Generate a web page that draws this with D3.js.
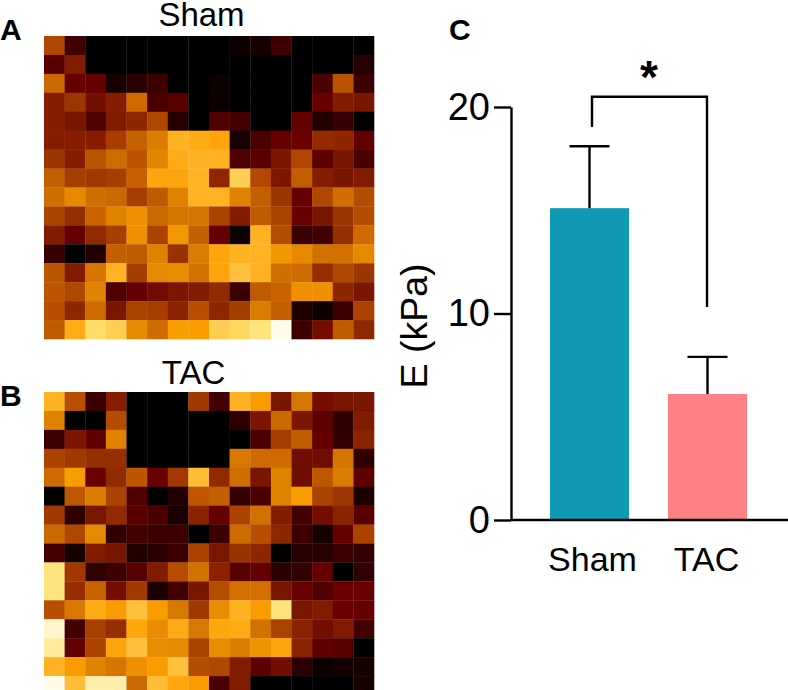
<!DOCTYPE html>
<html>
<head>
<meta charset="utf-8">
<style>
  html, body { margin: 0; padding: 0; background: #fff; }
  svg { display: block; }
  text { font-family: "Liberation Sans", Arial, sans-serif; fill: #000; }
</style>
<script src="https://cdn.jsdelivr.net/npm/d3@7"></script>
</head>
<body>
<svg id="chart" width="788" height="690">
  <defs>
    <filter id="soft" x="-2%" y="-2%" width="104%" height="104%">
      <feGaussianBlur stdDeviation="0.6"></feGaussianBlur>
    </filter>
  </defs>
</svg>
<script>
const groups = ['Sham', 'TAC'];
const means = [15.1, 6.1];
const errors = [3.0, 1.8];
const yTicks = [0, 10, 20];

// stiffness map levels (0 = black, 20 = near white)
const shamMap = [
  [8, 2.5, 0, 0, 0, 0, 0, 0, 0, 0.5, 1, 2.5, 0, 0, 0, 0],
  [3.5, 5.5, 0, 0, 0, 0.2, 0, 0, 0, 0, 0, 0, 0, 0, 0, 1.5],
  [10, 4, 4, 1, 1.7, 2.3, 0, 0, 0.3, 0, 0, 0, 0, 3, 8.7, 2.3],
  [5.8, 7, 4.8, 5.8, 10.2, 3, 3.5, 0, 0.3, 0, 0, 0, 0, 4.2, 5.5, 5],
  [5.8, 5, 3.2, 5.5, 6.2, 8, 1.6, 0, 3.2, 2.6, 0, 0, 4, 1.3, 2.2, 0],
  [5.8, 5.8, 5.8, 7.5, 9.6, 11.2, 15, 14.5, 14, 1, 3, 4, 4.3, 6.5, 6.3, 3.8],
  [7, 5.8, 8.8, 10.3, 8.8, 11.8, 14.5, 15, 15, 3.2, 3.5, 5.2, 8, 3.6, 5, 3],
  [9.5, 7.5, 7.2, 7.5, 9.6, 14, 14, 15, 6.3, 17, 8.2, 5.4, 9.4, 5.8, 5, 5.5],
  [10.4, 12, 10.4, 10, 7.5, 9.2, 11.6, 15, 15, 11.6, 9.5, 7, 4, 8, 10.4, 8.4],
  [7.8, 6.6, 9.8, 11.6, 12.6, 10, 10.8, 10.8, 7.8, 5.5, 9.2, 7.8, 4.2, 5, 7, 8.4],
  [5.5, 4, 6.4, 7.5, 12.6, 7.8, 13, 9.5, 4, 0.5, 15, 8.4, 2.2, 2.6, 6.6, 10.2],
  [2.2, 0, 1.3, 9.5, 9.2, 11.6, 6.8, 11.2, 14, 15, 15, 13, 12, 10.6, 10.6, 12],
  [9, 5.5, 10.8, 15, 7.4, 12, 12.3, 10.6, 14, 16, 15, 10.4, 10.2, 6.6, 8, 7],
  [9, 8, 11.6, 3.2, 4, 4.6, 5.2, 5.5, 6.4, 2.2, 9.2, 9.8, 12.6, 12.6, 6.2, 5],
  [8.6, 6.2, 10.2, 5, 7.8, 7.5, 6, 8.6, 6.2, 7.4, 11.2, 9.5, 1.2, 0.5, 2.3, 7.8],
  [9.2, 14.5, 18, 17, 12, 10.2, 13.4, 13.4, 17, 17.6, 18.3, 20, 2.3, 4.7, 9.2, 6.2]
];

const tacMap = [
  [15, 8.6, 2.3, 5.8, 0, 0, 0, 7.2, 2.6, 15, 13.4, 5, 10.8, 4.8, 5, 5],
  [11.6, 0, 0, 8.4, 0, 0, 0, 0, 0, 1.8, 5.2, 10, 5.3, 3.6, 1.8, 5.5],
  [2.3, 5.3, 3.8, 11.6, 0, 0, 0, 0, 0, 0, 3, 7.5, 9.3, 4, 2, 6],
  [7.8, 7.2, 6.6, 6.6, 0, 0, 0, 0, 0, 11, 10.2, 10.2, 4.5, 4.5, 10.8, 1.8],
  [10.2, 13.4, 4.2, 6.4, 9, 4.2, 7.2, 15.7, 6.4, 10.4, 5, 11.6, 4.5, 9, 11.2, 3.6],
  [0, 9, 11.2, 7.8, 3.2, 0, 1.3, 9, 9.5, 2, 3, 11.6, 13.4, 7.8, 7, 1.2],
  [7.2, 1.8, 5, 6.4, 3.5, 3, 1, 6, 4, 7.8, 10.6, 5.5, 2.6, 4.8, 6, 3.5],
  [10, 8, 12, 2, 2.6, 2.4, 2.4, 0, 2.4, 10.2, 8.6, 6.2, 2.4, 0.8, 4, 7.8],
  [2.6, 0.8, 5.5, 5, 1.3, 1.7, 2.4, 7.8, 5, 6.8, 6.2, 0, 1.6, 1.5, 2.3, 1.9],
  [18.3, 7.2, 2, 2.4, 3.4, 5.5, 8.4, 10.6, 6, 3.4, 4, 1.7, 2, 4, 0, 1.9],
  [18.3, 6.6, 9.8, 4.8, 7.2, 1.2, 2.6, 5, 8.4, 10.6, 10.6, 5, 4.2, 3.2, 4.3, 4.3],
  [8.6, 11, 14.5, 13.4, 16, 13.4, 11, 7.2, 12.3, 15, 13.4, 18.3, 5, 5.5, 4.3, 4],
  [19.6, 2.6, 7.6, 6.6, 14.2, 12.3, 14.5, 11, 14.2, 14.5, 10.6, 7.8, 6, 4.7, 5.5, 2.6],
  [18.8, 3.8, 7.8, 14, 16, 12.3, 12, 7.8, 12.3, 11.2, 12.8, 14, 6, 3.8, 3.4, 0],
  [15, 13.4, 11.6, 10.8, 12.6, 13.4, 16, 8.4, 8, 5.5, 3.6, 4.5, 1.7, 0.5, 0.7, 0.7],
  [20, 15.7, 19, 19, 10, 15.7, 14.2, 13.4, 3, 5.5, 0, 0, 0, 0, 0, 1]
];

const colorStops = [0, 4, 8, 12, 14, 16, 18, 20];
const colorRange = ['#000000', '#650000', '#b04600', '#e68800', '#ffa408', '#ffc03c', '#ffde6a', '#fffcea'];

const svg = d3.select('#chart');

const color = d3.scaleLinear().domain(colorStops).range(colorRange).clamp(true);

function drawMap(values, left, top, width, height, title, titleX, titleY) {
  const x = d3.scaleBand().domain(d3.range(16)).range([left, left + width]);
  const y = d3.scaleBand().domain(d3.range(16)).range([top, top + height]);

  const g = svg.append('g').attr('filter', 'url(#soft)');
  values.forEach((row, r) => {
    g.selectAll(null)
      .data(row)
      .join('rect')
      .attr('x', (d, c) => x(c))
      .attr('y', y(r))
      .attr('width', x.bandwidth() + 0.3)
      .attr('height', y.bandwidth() + 0.3)
      .attr('fill', (d) => color(d));
  });

  svg
    .append('text')
    .attr('x', titleX)
    .attr('y', titleY)
    .attr('text-anchor', 'middle')
    .attr('font-size', 33)
    .text(title);
}

drawMap(shamMap, 44, 36, 330, 303, 'Sham', 201.5, 26);
drawMap(tacMap, 44, 392, 330, 303, 'TAC', 193.5, 384);

// Panel letters
const panelLetters = [
  ['A', 0, 40],
  ['B', 0, 406],
  ['C', 449, 40]
];
svg
  .append('g')
  .attr('font-size', 30)
  .attr('font-weight', 'bold')
  .selectAll('text')
  .data(panelLetters)
  .join('text')
  .attr('x', (d) => d[1])
  .attr('y', (d) => d[2])
  .style('font-family', '"Liberation Sans", Arial, sans-serif')
  .text((d) => d[0]);

// Bar chart
const x = d3
  .scaleBand()
  .domain(groups)
  .range([530.5, 766.5])
  .paddingInner(0.33)
  .paddingOuter(0.165);

const y = d3.scaleLinear().domain([0, 20]).range([520, 107]);

const barColors = d3.scaleOrdinal().domain(groups).range(['#1099b5', '#ff8085']);

svg
  .append('g')
  .selectAll('rect')
  .data(groups)
  .join('rect')
  .attr('x', (d) => x(d))
  .attr('y', (d, i) => y(means[i]))
  .attr('width', x.bandwidth())
  .attr('height', (d, i) => y(0) - y(means[i]))
  .attr('fill', (d) => barColors(d));

// Error bars, upper half only
const errG = svg.append('g').attr('stroke', '#000').attr('stroke-width', 2.4);
errG
  .selectAll('line.stem')
  .data(groups)
  .join('line')
  .attr('class', 'stem')
  .attr('x1', (d) => x(d) + x.bandwidth() / 2)
  .attr('x2', (d) => x(d) + x.bandwidth() / 2)
  .attr('y1', (d, i) => y(means[i]))
  .attr('y2', (d, i) => y(means[i] + errors[i]));
errG
  .selectAll('line.cap')
  .data(groups)
  .join('line')
  .attr('class', 'cap')
  .attr('x1', (d) => x(d) + x.bandwidth() / 2 - 20)
  .attr('x2', (d) => x(d) + x.bandwidth() / 2 + 20)
  .attr('y1', (d, i) => y(means[i] + errors[i]))
  .attr('y2', (d, i) => y(means[i] + errors[i]));

// Y axis
svg
  .append('g')
  .attr('transform', 'translate(511,0)')
  .call(d3.axisLeft(y).tickValues(yTicks).tickSize(17).tickSizeOuter(0).tickPadding(4))
  .call((g) => g.selectAll('path, line').attr('stroke', '#000').attr('stroke-width', 2.4))
  .call((g) =>
    g
      .selectAll('text')
      .attr('font-size', 38)
      .style('font-family', '"Liberation Sans", Arial, sans-serif')
      .attr('fill', '#000'),
  );

// X axis
svg
  .append('g')
  .attr('transform', 'translate(0,520)')
  .call(d3.axisBottom(x).tickSize(0).tickPadding(27))
  .call((g) => g.select('.domain').attr('d', 'M511,0H788').attr('stroke', '#000').attr('stroke-width', 2.4))
  .call((g) =>
    g
      .selectAll('text')
      .attr('font-size', 34)
      .attr('dx', (d) => (d === 'Sham' ? 3 : -1))
      .style('font-family', '"Liberation Sans", Arial, sans-serif')
      .attr('fill', '#000'),
  );

svg
  .append('text')
  .attr('transform', 'translate(427,326) rotate(-90)')
  .attr('text-anchor', 'middle')
  .attr('font-size', 37.5)
  .text('E (kPa)');

// Significance bracket
svg
  .append('path')
  .attr('d', d3.line()([[592, 127], [592, y(20.5)], [707, y(20.5)], [707, 307]]))
  .attr('fill', 'none')
  .attr('stroke', '#000')
  .attr('stroke-width', 2.4);

svg
  .append('text')
  .attr('x', 649)
  .attr('y', 93)
  .attr('text-anchor', 'middle')
  .attr('font-size', 46)
  .attr('font-weight', 'bold')
  .text('*');
</script>
</body>
</html>
